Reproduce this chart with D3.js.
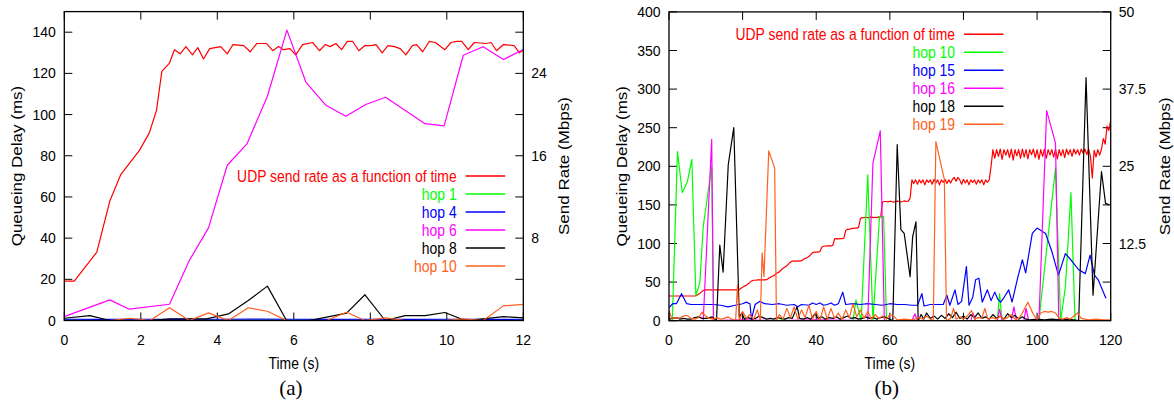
<!DOCTYPE html>
<html>
<head>
<meta charset="utf-8">
<script src="https://cdn.jsdelivr.net/npm/d3@7"></script>
<style>
  html, body { margin: 0; padding: 0; background: #fff; }
  svg { display: block; }
</style>
</head>
<body>
<svg id="fig" width="1174" height="407"></svg>
<script>
// ---- data ----
// (a) 12 s run: [time s, value]; send rate in Mbps, hop delays in ms
const leftTimeTicks = [0, 2, 4, 6, 8, 10, 12];
const leftDelayTicks = [0, 20, 40, 60, 80, 100, 120, 140];
const leftRateTicks = [4, 8, 12, 16, 20, 24, 28];
const leftRateLabels = [8, 16, 24];

const leftUdpRate = [[0,3.82],[0.26,3.82],[0.85,6.64],[1.19,11.6],[1.48,14.2],[1.96,16.5],[2.22,18.2],[2.41,20.4],
  [2.55,24.2],[2.75,25],[2.88,26.3],[3.03,25.9],[3.18,26.6],[3.35,25.8],[3.49,26.5],[3.64,25.4],[3.8,26.4],
  [4.09,26.6],[4.26,25.9],[4.41,26.8],[4.69,26.7],[4.86,26.1],[5.03,26.9],[5.29,26.9],[5.45,26.2],[5.6,26.6],
  [5.73,26.3],[5.9,26.4],[6.05,25.8],[6.23,26.8],[6.49,27],[6.67,26.2],[6.82,26.8],[6.95,26.6],[7.1,26.9],
  [7.25,26.3],[7.4,27.1],[7.54,27.1],[7.7,26.2],[7.86,26.7],[8.01,26.7],[8.15,26.8],[8.31,26],[8.46,26.7],
  [8.63,26.6],[8.78,26.4],[8.93,25.8],[9.1,26.7],[9.21,26.8],[9.37,26.1],[9.54,27.1],[9.7,27],[9.95,26.3],
  [10.11,27],[10.26,27.1],[10.39,27.1],[10.56,26.3],[10.72,27],[11.02,26.9],[11.16,27],[11.3,26.2],
  [11.48,26.8],[11.76,26.7],[11.9,26],[12,26.3]];
const leftHop1 = [[0,0.2],[2,0.1],[4,0.1],[6,0.2],[8,0.1],[10,0.1],[12,0.2]];
const leftHop4 = [[0,0.6],[1,0.5],[2,0.6],[3,0.5],[4,0.6],[5,0.7],[6,0.6],[7,0.5],[8,0.6],[9,0.5],[10,0.6],[11,0.5],[12,0.6]];
const leftHop6 = [[0,1.9],[1.19,10],[1.7,5.5],[2.75,7.9],[3.27,29.2],[3.77,45],[4.26,75.4],[4.78,85.9],[5.31,108.9],
  [5.82,141],[6.32,115.6],[6.84,104.5],[7.36,99.2],[7.88,104.9],[8.4,108.4],[9.43,95.6],[9.93,94.5],[10.43,128.8],
  [10.95,132.9],[11.48,126.7],[12,131.6]];
const leftHop8 = [[0,1.1],[0.67,2.4],[1.19,0],[2.24,0],[2.76,0.8],[3.72,0.8],[4.29,3.2],[4.81,9.7],[5.31,16.7],
  [5.81,0],[6.4,0],[6.86,1.6],[7.38,3.6],[7.86,12.5],[8.39,0],[8.91,2.4],[9.43,2.4],[9.95,3.9],[10.48,0],
  [10.95,0.8],[11.48,1.9],[12,1.3]];
const leftHop10 = [[0,0],[1.19,0],[1.72,1.1],[2.24,0],[2.75,6.2],[3.27,0],[3.77,3.7],[4.29,0],[4.81,6.2],[5.31,4.5],
  [5.81,0],[6.86,0],[7.38,4.0],[7.86,0],[8.39,1.3],[8.91,0],[9.95,0],[10.43,0.8],[10.95,0],[11.48,7.1],[12,7.8]];

// (b) 120 s run
const rightTimeTicks = [0, 20, 40, 60, 80, 100, 120];
const rightDelayTicks = [0, 50, 100, 150, 200, 250, 300, 350, 400];
const rightRateTicks = [6.25, 12.5, 18.75, 25, 31.25, 37.5, 43.75, 50];
const rightRateLabels = [12.5, 25, 37.5, 50];

// send rate sampled every 0.5 s (Mbps)
const rightUdpStep = 0.5;
const rightUdpRate = [
  4.0,4.0,4.0,4.0,4.0,4.0,4.0,4.0,4.0,4.0,4.0,4.0,4.0,4.0,4.0,
  4.1,4.3,4.5,4.75,4.95,
  5.0,5.0,5.0,5.0,5.0,5.0,5.0,5.0,5.0,5.0,5.0,5.0,5.0,5.0,5.0,5.0,5.0,5.0,5.0,
  5.2,5.4,5.6,5.75,6.0,6.2,6.45,6.55,6.55,6.6,6.6,6.6,6.6,6.6,6.65,6.85,7.0,7.2,7.3,7.55,
  7.75,7.9,8.25,8.5,8.7,8.9,9.2,9.5,9.65,9.65,9.65,9.65,9.7,9.7,9.9,10.1,10.2,10.4,10.7,11.0,
  11.1,11.1,11.1,11.2,11.9,12.05,12.1,12.1,12.15,12.1,12.2,13.25,13.3,13.25,13.3,13.3,13.35,14.6,14.8,14.8,
  14.9,14.95,15.0,15.0,15.1,16.5,16.7,16.7,16.75,16.7,16.7,16.8,16.7,16.75,16.7,16.8,16.75,19.2,19.3,19.3,
  19.25,19.35,19.3,19.2,19.3,19.35,19.3,19.25,19.3,19.4,19.3,19.35,19.8,22.8,
  22.2,22.8,22.1,22.8,22.3,22.8,22.0,22.8,22.4,22.8,22.1,22.9,22.3,22.8,22.0,22.8,22.4,22.9,22.2,22.8,
  22.3,22.9,23.2,22.6,23.2,22.8,22.1,22.9,22.3,22.8,22.0,22.8,22.4,22.8,22.1,22.8,22.3,22.8,22.0,22.8,
  22.4,22.8,
  25.0,27.7,
  26.3,27.7,26.6,27.8,26.1,27.7,26.8,27.7,26.4,27.8,26.0,27.7,26.7,27.7,26.3,27.8,26.5,27.7,26.2,27.7,
  26.9,27.8,26.4,27.7,26.1,27.7,26.6,27.8,26.3,27.7,26.8,27.7,26.5,27.8,26.2,27.7,26.7,27.7,26.4,27.8,
  26.9,27.7,26.6,27.8,27.0,27.7,26.8,27.8,27.1,27.8,26.9,27.8,26.6,23.1,27.6,26.5,27.7,26.8,
  27.8,29.5,28.6,31.5,30.8,32.5];
const rightHop10 = [[0,0],[0.9,0],[2.3,219],[3.6,166],[5,180],[6.2,209],[7.3,32],[8.4,50],[9.3,122],[11.6,200],
  [12.1,0],[30,0],[31,2],[32,0],[50,0],[50.8,27],[52.2,0],[54,189],[55.4,0],[57.2,135],[58.3,135],[59.1,0],
  [89.2,0],[89.8,35],[90.5,0],[100.5,0],[105,198],[106.4,0],[107.7,44],[109.2,166],[110.3,0],[120,0]];
const rightHop15 = [[0,17],[1,22],[2,22],[3.4,35],[4.8,22],[6,21],[8,21],[10,21],[12,21],[14,20],[16,18],[18,20],
  [20,22],[21,24],[22,22],[22.4,2],[23.4,21],[24.6,25],[26,22],[28,21],[30,22],[32,20],[34,21],[35,18],[36,21],
  [38,20],[39,23],[40,21],[41,23],[42,20],[43,21],[44,23],[45,20],[46,22],[47.2,37],[48,21],[50,22],[52,21],
  [54,22],[56,21],[58,20],[60,22],[62,21],[64,21],[66,20],[67.5,20],[68.7,35],[69.3,19],[71,21],[73,21],
  [74.5,21],[75.5,33],[76.3,20],[77.7,40],[78.5,21],[79.5,25],[80.8,70],[81.5,20],[82.5,30],[83.3,53],[84.2,55],
  [85.1,24],[86.5,40],[87.5,26],[88.5,37],[89.3,28],[90.1,24],[91,30],[92.3,40],[93.2,24],[94.6,53],[96,79],
  [96.9,62],[98.7,113],[100,120],[102.3,113],[104,90],[105.8,59],[107.7,87],[109.5,77],[111.3,66],[113.1,61],
  [114.4,85],[115.6,59],[116.6,53],[118.7,29]];
const rightHop16 = [[0,0],[9.3,0],[11.6,235],[12.1,0],[20,1],[30,0],[40,1],[54,0],[55.4,204],[57.4,246],[58.5,0],
  [66,0],[66.8,9],[67.5,0],[75,0],[82,0],[82.6,10],[83.3,0],[89.2,0],[89.8,15],[90.5,0],[93,0],[93.7,18],
  [94.4,0],[96.4,0],[97,16],[97.7,0],[100.5,0],[102.6,272],[105,230],[105.9,0],[120,0]];
const rightHop18 = [[0,2],[1,3],[2,4],[3,2],[4,3],[5,2],[6,2],[7,4],[8,5],[9,3],[10,3],[11,4],[11.7,5],[12.9,0],
  [13.8,98],[14.7,63],[16.1,202],[17.6,250],[19.1,5],[19.8,10],[20.5,2],[21.5,4],[22.5,2],[23.5,3],[24.5,6],
  [25.5,4],[26.5,2],[27.5,3],[28.5,2],[29.5,4],[30.5,3],[31.5,2],[32.5,4],[33.5,3],[34.8,18],[35.5,3],[36.5,2],
  [37.5,4],[38.5,2],[39.7,9],[40.5,3],[41.5,5],[42.5,2],[43.5,4],[44.5,3],[45.5,5],[46.5,2],[47.5,4],[48.5,6],
  [49.5,3],[50.5,4],[51.5,2],[52.5,3],[53.5,5],[54.5,3],[55.5,4],[56.5,2],[57.5,4],[58.5,5],[59.5,3],[60.8,0],
  [62,228],[63,118],[63.9,113],[65.5,57],[66.2,109],[67.1,128],[67.7,0],[68.5,8],[69.2,2],[70,10],[71,3],[72,6],
  [73,2],[74,7],[75,3],[76,9],[77,4],[78,11],[79,3],[80,6],[81,2],[82,8],[83,4],[84,10],[85,3],[86,5],[87,2],
  [88,8],[89,3],[90,6],[91,2],[92,9],[93,4],[94,7],[95,2],[96,5],[97,2],[98,1],[100,2],[102,1],[104,2],[106,1],
  [108,2],[110,1],[111.3,0],[113.3,315],[115.2,33],[117.5,193],[118.6,152],[119.6,150]];
const rightHop19 = [[0,14],[0.7,3],[1.5,4],[2.5,3],[3.5,5],[4.5,7],[5.2,6],[6,3],[7,2],[8,4],[9,11],[10,6],[11,3],
  [12,2],[13,4],[14,2],[15,3],[16,5],[17,2],[18.1,0],[18.6,46],[19.1,0],[20,12],[21,3],[22,8],[23,2],[24,14],
  [24.8,0],[25.3,88],[25.8,57],[27.1,220],[28.7,198],[29.2,0],[30,8],[31,2],[32,16],[33,4],[34,18],[35,2],[36,14],
  [37,4],[38,20],[39,2],[40,12],[41,0],[42,18],[43,2],[44,16],[45,3],[46,10],[47,2],[48,14],[49,4],[50,22],[51,5],
  [52,14],[53,3],[54,12],[55,2],[56,8],[57,3],[58,6],[59,2],[60,8],[61,6],[62,1],[64,2],[66,1],[68,4],[69,2],
  [70,6],[71,2],[71.8,0],[72.5,232],[74.8,183],[75.4,0],[76.5,3],[77.3,16],[78,2],[79,5],[80,2],[81,6],[82.2,13],
  [83,2],[84,4],[85,3],[85.8,16],[86.6,2],[88,4],[89,2],[90,6],[91,2],[92,4],[93,8],[94,2],[95,3],[96,10],
  [97.5,24],[99,8],[100,2],[101,10],[102,12],[103,11],[104,12],[105,10],[106,3],[107,2],[108,4],[109,2],[110,6],
  [111,10],[112,3],[114,1],[116,2],[118,1],[120,1]];

const udpLabel = "UDP send rate as a function of time";
const leftHopNames = ["hop 1", "hop 4", "hop 6", "hop 8", "hop 10"];
const rightHopNames = ["hop 10", "hop 15", "hop 16", "hop 18", "hop 19"];
const hopColors = ["#00ff00", "#0000ff", "#ff00ff", "#000000", "#ff6020"];
const udpColor = "#ff0000";

// ---- drawing ----
const SQ = 0.82; // the original figure is squeezed horizontally
const svg = d3.select("#fig");

const charts = [
  { id: "a", x0: 64.3, x1: 523.3, y0: 320.5, y1: 11.6, tMax: 12, dMax: 150, rMax: 30,
    timeTicks: leftTimeTicks, delayTicks: leftDelayTicks, rateTicks: leftRateTicks, rateLabels: leftRateLabels,
    udp: leftUdpRate, hops: [leftHop1, leftHop4, leftHop6, leftHop8, leftHop10], names: leftHopNames,
    legendX: 456.7, legendY: 176, yTitleX: 22, y2TitleX: 569, caption: "(a)" },
  { id: "b", x0: 669, x1: 1110.7, y0: 320.7, y1: 11.9, tMax: 120, dMax: 400, rMax: 50,
    timeTicks: rightTimeTicks, delayTicks: rightDelayTicks, rateTicks: rightRateTicks, rateLabels: rightRateLabels,
    udp: rightUdpRate.map((v, i) => [i * rightUdpStep, v]),
    hops: [rightHop10, rightHop15, rightHop16, rightHop18, rightHop19], names: rightHopNames,
    legendX: 955, legendY: 34.3, yTitleX: 627, y2TitleX: 1170, caption: "(b)" }
];

function squeezedText(g, x, y, str, anchor, size, rotate) {
  return g.append("text")
    .attr("transform", `translate(${x},${y}) scale(${SQ},1)` + (rotate ? " rotate(-90)" : ""))
    .attr("text-anchor", anchor)
    .style("font-family", "'Liberation Sans', Arial, sans-serif")
    .style("font-size", size + "px")
    .text(str);
}

charts.forEach(c => {
  const g = svg.append("g");
  const x = d3.scaleLinear().domain([0, c.tMax]).range([c.x0, c.x1]);
  const y = d3.scaleLinear().domain([0, c.dMax]).range([c.y0, c.y1]);
  const y2 = d3.scaleLinear().domain([0, c.rMax]).range([c.y0, c.y1]);
  const tick = 8;

  g.append("clipPath").attr("id", "clip-" + c.id)
    .append("rect")
    .attr("x", c.x0).attr("y", c.y1)
    .attr("width", c.x1 - c.x0).attr("height", c.y0 - c.y1);

  // ticks (inward, gnuplot style)
  const tg = g.append("g").attr("stroke", "#000").attr("stroke-width", 1);
  c.timeTicks.forEach(t => {
    tg.append("line").attr("x1", x(t)).attr("x2", x(t)).attr("y1", c.y0).attr("y2", c.y0 - tick);
    tg.append("line").attr("x1", x(t)).attr("x2", x(t)).attr("y1", c.y1).attr("y2", c.y1 + tick);
  });
  c.delayTicks.forEach(d => {
    tg.append("line").attr("x1", c.x0).attr("x2", c.x0 + tick).attr("y1", y(d)).attr("y2", y(d));
  });
  c.rateTicks.forEach(r => {
    tg.append("line").attr("x1", c.x1).attr("x2", c.x1 - tick).attr("y1", y2(r)).attr("y2", y2(r));
  });

  // tick labels
  const lab = g.append("g")
    .style("font-family", "'Liberation Sans', Arial, sans-serif")
    .style("font-size", "14px").attr("fill", "#000");
  c.timeTicks.forEach(t => {
    lab.append("text").attr("x", x(t)).attr("y", 345).attr("text-anchor", "middle").text(t);
  });
  c.delayTicks.forEach(d => {
    lab.append("text").attr("x", c.x0 - 8.5).attr("y", y(d)).attr("dy", "0.36em")
      .attr("text-anchor", "end").text(d);
  });
  c.rateLabels.forEach(r => {
    lab.append("text").attr("x", c.x1 + 8).attr("y", y2(r)).attr("dy", "0.36em")
      .attr("text-anchor", "start").text(r);
  });

  // axis titles and caption
  const cx = (c.x0 + c.x1) / 2, cy = (c.y0 + c.y1) / 2;
  squeezedText(g, cx, 368.5, "Time (s)", "middle", 17, false);
  squeezedText(g, c.yTitleX, cy, "Queueing Delay (ms)", "middle", 17, true);
  squeezedText(g, c.y2TitleX, cy, "Send Rate (Mbps)", "middle", 17, true);
  g.append("text").attr("x", cx - 3).attr("y", 394.5).attr("text-anchor", "middle")
    .style("font-family", "'Liberation Serif', 'Times New Roman', serif")
    .style("font-size", "21px").text(c.caption);

  // series
  const plot = g.append("g").attr("clip-path", `url(#clip-${c.id})`)
    .attr("fill", "none").attr("stroke-width", 1.2).attr("stroke-linejoin", "round");
  plot.append("path").datum(c.udp).attr("stroke", udpColor)
    .attr("d", d3.line().x(d => x(d[0])).y(d => y2(d[1])));
  const hopLine = d3.line().x(d => x(d[0])).y(d => y(d[1]));
  c.hops.forEach((h, i) => {
    plot.append("path").datum(h).attr("stroke", hopColors[i]).attr("d", hopLine);
  });

  // legend
  const legend = [{ name: udpLabel, color: udpColor }]
    .concat(c.names.map((n, i) => ({ name: n, color: hopColors[i] })));
  legend.forEach((e, i) => {
    const ly = c.legendY + i * 18;
    squeezedText(g, c.legendX, ly + 6, e.name, "end", 17, false).attr("fill", e.color);
    g.append("line").attr("x1", c.legendX + 9).attr("x2", c.legendX + 48.5)
      .attr("y1", ly).attr("y2", ly).attr("stroke", e.color).attr("stroke-width", 1.5);
  });

  // frame
  g.append("rect").attr("x", c.x0).attr("y", c.y1)
    .attr("width", c.x1 - c.x0).attr("height", c.y0 - c.y1)
    .attr("fill", "none").attr("stroke", "#000").attr("stroke-width", 1.3);
});
</script>
</body>
</html>
